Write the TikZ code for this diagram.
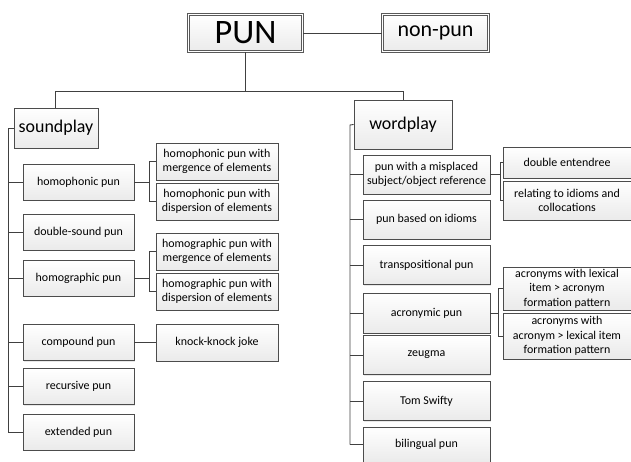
\documentclass[tikz,border=0pt]{standalone}
\usepackage{fontspec}
\setmainfont{Carlito}
\usetikzlibrary{shadows}

\begin{document}
\begin{tikzpicture}[x=0.02cm, y=-0.02cm,
	box/.style={draw=gray!60!black, line width=0.5pt, top color=white, bottom color=gray!16,
		inner sep=1pt, align=center, font=\fontsize{6.8}{8.3}\selectfont,
		drop shadow={opacity=0.18, shadow xshift=0.7pt, shadow yshift=-0.7pt}},
	topbox/.style={box, double=white, double distance=0.8pt, draw=gray!70!black, line width=0.6pt},
	headbox/.style={box, font=\fontsize{10.2}{12}\selectfont},
	leftbox/.style={box, minimum width=2.22cm, minimum height=0.72cm},
	rightbox/.style={box, minimum width=2.54cm, minimum height=0.78cm},
	subbox/.style={box, minimum width=2.44cm, minimum height=0.74cm},
	farbox/.style={box, minimum width=2.56cm},
	wire/.style={draw=gray!50!black, line width=0.5pt}]
	\useasboundingbox (0,0) rectangle (631,462);
	% Top of the tree:
	\node[topbox, minimum width=2.28cm, minimum height=0.74cm, font=\fontsize{19.5}{22}\selectfont] (pun) at (245.5,33) {PUN};
	\node[topbox, minimum width=2.12cm, minimum height=0.74cm, font=\fontsize{12.5}{14}\selectfont] (nonpun) at (435.5,33) {non-pun};
	\node[headbox, minimum width=1.68cm, minimum height=0.8cm] (sound) at (56,128) {soundplay};
	\node[headbox, minimum width=1.96cm, minimum height=0.98cm] (word) at (403,124.5) {wordplay};
	\coordinate (bl) at (55,91);
	\coordinate (br) at (403,91);
	\draw[wire] (pun.east) -- (nonpun.west);
	\draw[wire] (pun.south) -- (pun.south |- bl);
	\draw[wire] (bl |- sound.north) -- (bl) -- (br) -- (br |- word.north);

	% soundplay side:
	\node[leftbox] (homoph) at (78.5,182) {homophonic pun};
	\node[leftbox] (dsound) at (78.5,232) {double-sound pun};
	\node[leftbox] (homogr) at (78.5,278) {homographic pun};
	\node[leftbox] (compound) at (78.5,342.5) {compound pun};
	\node[leftbox] (recursive) at (78.5,386.5) {recursive pun};
	\node[leftbox] (extended) at (78.5,432) {extended pun};
	\node[subbox] (phmerg) at (217,161.5) {homophonic pun with\\mergence of elements};
	\node[subbox] (phdisp) at (217,201.5) {homophonic pun with\\dispersion of elements};
	\node[subbox] (grmerg) at (217,251.5) {homographic pun with\\mergence of elements};
	\node[subbox] (grdisp) at (217,291.5) {homographic pun with\\dispersion of elements};
	\node[subbox] (knock) at (217,342.5) {knock-knock joke};
	\coordinate (ls) at (8,128);
	\draw[wire] (sound.west) -- (ls) -- (ls |- extended.west);
	\foreach \n in {homoph, dsound, homogr, compound, recursive, extended}
		\draw[wire] (ls |- \n.west) -- (\n.west);
	\draw[wire] (homoph.east) -- ++(15,0) coordinate (hb);
	\draw[wire] (phmerg.west) -| (hb) |- (phdisp.west);
	\draw[wire] (homogr.east) -- ++(15,0) coordinate (gb);
	\draw[wire] (grmerg.west) -| (gb) |- (grdisp.west);
	\draw[wire] (compound.east) -- (knock.west);

	% wordplay side:
	\node[rightbox] (misplaced) at (426.5,174.5) {pun with a misplaced\\subject/object reference};
	\node[rightbox] (idioms) at (426.5,219.5) {pun based on idioms};
	\node[rightbox] (transp) at (426.5,265) {transpositional pun};
	\node[rightbox, minimum height=0.8cm] (acronymic) at (426.5,313) {acronymic pun};
	\node[rightbox] (zeugma) at (426.5,355) {zeugma};
	\node[rightbox] (swifty) at (426.5,401) {Tom Swifty};
	\node[rightbox, minimum height=0.7cm] (bilingual) at (426.5,444.5) {bilingual pun};
	\node[farbox, minimum height=0.62cm] (entendre) at (567,162.5) {double entendree};
	\node[farbox, minimum height=0.78cm] (idcoll) at (567,200.5) {relating to idioms and\\collocations};
	\node[farbox, minimum height=0.86cm] (acrlex) at (567,288.5) {acronyms with lexical\\item > acronym\\formation pattern};
	\node[farbox, minimum height=0.92cm] (acracr) at (567,336) {acronyms with\\acronym > lexical item\\formation pattern};
	\coordinate (rs) at (350,125);
	\draw[wire] (word.west) -- (rs) -- (rs |- bilingual.west);
	\foreach \n in {misplaced, idioms, transp, acronymic, zeugma, swifty, bilingual}
		\draw[wire] (rs |- \n.west) -- (\n.west);
	\draw[wire] (misplaced.east) -- ++(10,0) coordinate (mb);
	\draw[wire] (entendre.west) -| (mb) |- (idcoll.west);
	\draw[wire] (acronymic.east) -- ++(8,0) coordinate (ab);
	\draw[wire] (acrlex.west) -| (ab) |- (acracr.west);
\end{tikzpicture}
\end{document}
